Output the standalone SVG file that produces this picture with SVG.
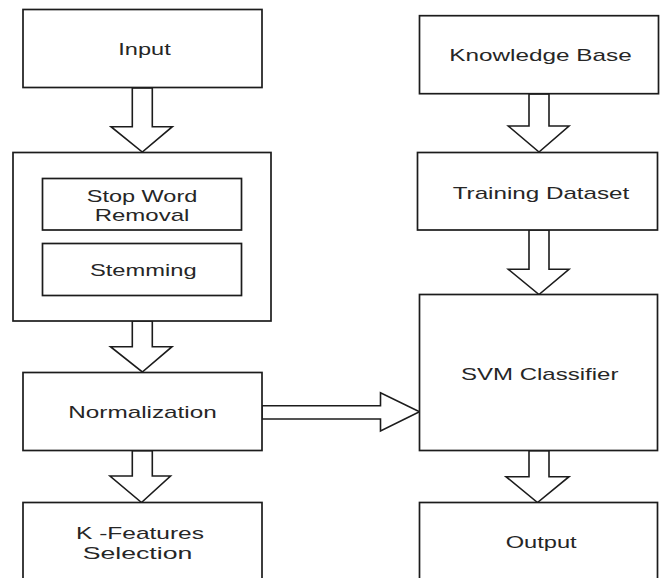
<svg xmlns="http://www.w3.org/2000/svg" width="660" height="578" viewBox="0 0 660 578">
  <style>
    .box { fill: #ffffff; stroke: #1c1c1c; stroke-width: 1.7; }
    .arrow { fill: #ffffff; stroke: #1c1c1c; stroke-width: 1.6; stroke-linejoin: miter; }
    .label { font-family: "Liberation Sans", Arial, sans-serif; font-size: 16px; fill: #262626; text-anchor: middle; }
  </style>
  <rect x="0" y="0" width="660" height="578" fill="#ffffff"/>

  <!-- block arrows between stages -->
  <g id="connectors">
    <!-- Input -> preprocessing -->
    <path class="arrow" d="M132.3,88 V126.7 H111 L142.3,152 L172.3,126.7 H152.3 V88 Z"/>
    <!-- preprocessing -> Normalization -->
    <path class="arrow" d="M132.3,321 V346.7 H110.5 L142.3,372 L172,346.7 H152.3 V321 Z"/>
    <!-- Normalization -> K-Features Selection -->
    <path class="arrow" d="M132.3,450.7 V476 H110 L141.5,502.5 L170.5,476 H152.3 V450.7 Z"/>
    <!-- Knowledge Base -> Training Dataset -->
    <path class="arrow" d="M529,94 V126 H508.3 L539,152 L569,126 H549 V94 Z"/>
    <!-- Training Dataset -> SVM Classifier -->
    <path class="arrow" d="M529,230 V269.3 H508.3 L539,294.5 L569,269.3 H549 V230 Z"/>
    <!-- SVM Classifier -> Output -->
    <path class="arrow" d="M529,450.7 V476.7 H506 L537.5,502.5 L569,476.7 H549 V450.7 Z"/>
    <!-- Normalization -> SVM Classifier -->
    <path class="arrow" d="M262,405.7 H380.5 V392.7 L419.5,411.8 L380.5,431 V419 H262 Z"/>
  </g>

  <!-- labels are set in a horizontally widened face (scale 1.5 x) -->
  <g id="input">
    <rect class="box" x="23" y="9.5" width="239" height="78"/>
    <text class="label" transform="translate(144.5,55) scale(1.5,1)" textLength="34.9" lengthAdjust="spacingAndGlyphs">Input</text>
  </g>

  <g id="preprocessing">
    <rect class="box" x="13" y="152.5" width="258" height="168.5"/>
  </g>

  <g id="stop-word-removal">
    <rect class="box" x="42.5" y="178.5" width="199" height="51.5"/>
    <text class="label" transform="translate(142,201.5) scale(1.5,1)" textLength="73.7" lengthAdjust="spacingAndGlyphs">Stop Word</text>
    <text class="label" transform="translate(142,221) scale(1.5,1)" textLength="63.1" lengthAdjust="spacingAndGlyphs">Removal</text>
  </g>

  <g id="stemming">
    <rect class="box" x="42.5" y="243.5" width="199" height="52"/>
    <text class="label" transform="translate(143.3,275.5) scale(1.5,1)" textLength="71.1" lengthAdjust="spacingAndGlyphs">Stemming</text>
  </g>

  <g id="normalization">
    <rect class="box" x="23" y="372.5" width="239" height="78"/>
    <text class="label" transform="translate(142.5,418) scale(1.5,1)" textLength="98.9" lengthAdjust="spacingAndGlyphs">Normalization</text>
  </g>

  <g id="k-features-selection">
    <rect class="box" x="23" y="502.5" width="239" height="90"/>
    <text class="label" transform="translate(140,539) scale(1.5,1)" textLength="85.3" lengthAdjust="spacingAndGlyphs">K -Features</text>
    <text class="label" transform="translate(137.5,559) scale(1.5,1)" textLength="73.1" lengthAdjust="spacingAndGlyphs">Selection</text>
  </g>

  <g id="knowledge-base">
    <rect class="box" x="419.5" y="15.7" width="239" height="78"/>
    <text class="label" transform="translate(540.5,61.3) scale(1.5,1)" textLength="121.6" lengthAdjust="spacingAndGlyphs">Knowledge Base</text>
  </g>

  <g id="training-dataset">
    <rect class="box" x="417.5" y="152.5" width="240" height="77.5"/>
    <text class="label" transform="translate(541,198.5) scale(1.5,1)" textLength="117.7" lengthAdjust="spacingAndGlyphs">Training Dataset</text>
  </g>

  <g id="svm-classifier">
    <rect class="box" x="419.5" y="294.5" width="238" height="156"/>
    <text class="label" transform="translate(539.7,380) scale(1.5,1)" textLength="104.9" lengthAdjust="spacingAndGlyphs">SVM Classifier</text>
  </g>

  <g id="output">
    <rect class="box" x="419.5" y="502.5" width="238" height="90"/>
    <text class="label" transform="translate(541.2,548) scale(1.5,1)" textLength="47.3" lengthAdjust="spacingAndGlyphs">Output</text>
  </g>
</svg>
